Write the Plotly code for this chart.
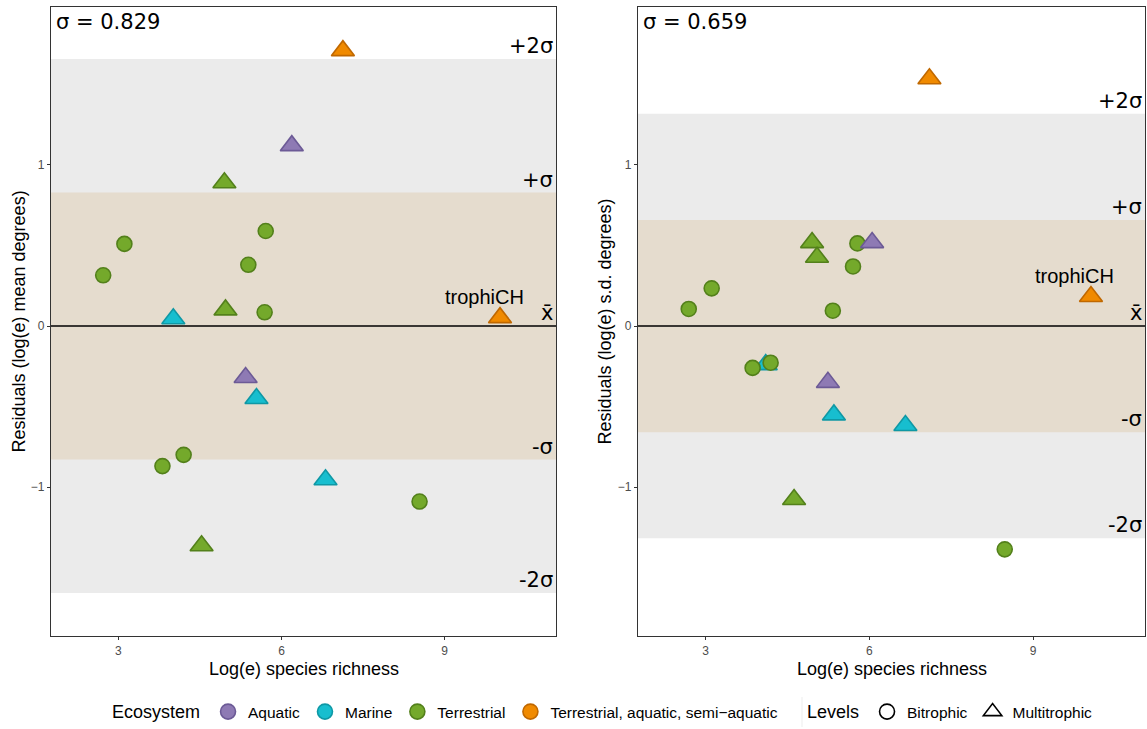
import plotly.graph_objects as go

# ---------------- data ----------------
sigma_left = 0.829
sigma_right = 0.659

left_x = [7.13, 6.19, 4.95, 3.11, 2.72, 5.71, 5.39, 4.97, 5.69, 4.01, 10.02, 5.34, 5.54, 4.20, 3.81, 6.81, 8.54, 4.53]
left_y = [1.71, 1.12, 0.89, 0.51, 0.315, 0.59, 0.38, 0.10, 0.085, 0.045, 0.052, -0.32, -0.45, -0.80, -0.87, -0.955, -1.09, -1.365]
left_eco = ["Terrestrial, aquatic, semi\u2212aquatic", "Aquatic", "Terrestrial", "Terrestrial", "Terrestrial",
            "Terrestrial", "Terrestrial", "Terrestrial", "Terrestrial", "Marine",
            "Terrestrial, aquatic, semi\u2212aquatic", "Aquatic", "Marine", "Terrestrial", "Terrestrial",
            "Marine", "Terrestrial", "Terrestrial"]
left_level = ["Multitrophic", "Multitrophic", "Multitrophic", "Bitrophic", "Bitrophic",
              "Bitrophic", "Bitrophic", "Multitrophic", "Bitrophic", "Multitrophic",
              "Multitrophic", "Multitrophic", "Multitrophic", "Bitrophic", "Bitrophic",
              "Multitrophic", "Bitrophic", "Multitrophic"]

right_x = [7.10, 10.06, 4.10, 5.35, 6.66, 4.95, 5.04, 4.62, 5.78, 5.70, 3.11, 2.69, 5.33, 3.86, 4.19, 8.48, 6.05, 5.24]
right_y = [1.535, 0.183, -0.24, -0.552, -0.618, 0.518, 0.427, -1.077, 0.513, 0.37, 0.234, 0.106, 0.095, -0.26, -0.228, -1.387, 0.518, -0.35]
right_eco = ["Terrestrial, aquatic, semi\u2212aquatic", "Terrestrial, aquatic, semi\u2212aquatic",
             "Marine", "Marine", "Marine",
             "Terrestrial", "Terrestrial", "Terrestrial", "Terrestrial", "Terrestrial", "Terrestrial",
             "Terrestrial", "Terrestrial", "Terrestrial", "Terrestrial", "Terrestrial",
             "Aquatic", "Aquatic"]
right_level = ["Multitrophic", "Multitrophic", "Multitrophic", "Multitrophic", "Multitrophic",
               "Multitrophic", "Multitrophic", "Multitrophic", "Bitrophic", "Bitrophic", "Bitrophic",
               "Bitrophic", "Bitrophic", "Bitrophic", "Bitrophic", "Bitrophic",
               "Multitrophic", "Multitrophic"]

# labelled network (trophiCH) index in each panel
left_label_idx = 10
right_label_idx = 1
label_text = "trophiCH"

ecosystems = ["Aquatic", "Marine", "Terrestrial", "Terrestrial, aquatic, semi\u2212aquatic"]
levels = ["Bitrophic", "Multitrophic"]

x_ticks = [3, 6, 9]
y_ticks = [-1, 0, 1]
y_ticktext = ["\u22121", "0", "1"]

band_labels = ["+2\u03c3", "+\u03c3", "x\u0304", "-\u03c3", "-2\u03c3"]
band_mult = [2, 1, 0, -1, -2]

# ---------------- styles ----------------
fill = {"Aquatic": "#8E7AB4", "Marine": "#17BECF", "Terrestrial": "#74A92B",
        "Terrestrial, aquatic, semi\u2212aquatic": "#F08A00"}
edge = {"Aquatic": "#6C5A96", "Marine": "#0F98A5", "Terrestrial": "#53801B",
        "Terrestrial, aquatic, semi\u2212aquatic": "#C06800"}
sym = {"Bitrophic": "circle", "Multitrophic": "triangle-up"}
msize = {"Bitrophic": 15, "Multitrophic": 20}

W, H = 1147, 729
L_dom = [51 / W, 556 / W]
R_dom = [638 / W, 1145 / W]
Y_dom = [1 - 636 / H, 1 - 7 / H]
XR = [1.76, 11.05]
YR = [-1.925, 1.981]
TXT = "Liberation Sans, Arial, sans-serif"
SIG = "DejaVu Sans, sans-serif"

fig = go.Figure()


def add_panel(xs, ys, ecos, lvls, xa, ya):
    fig.add_trace(go.Scatter(
        x=xs, y=ys, mode="markers", xaxis=xa, yaxis=ya, showlegend=False,
        hoverinfo="skip",
        marker=dict(symbol=[sym[l] for l in lvls], size=[msize[l] for l in lvls],
                    color=[fill[e] for e in ecos], opacity=1,
                    line=dict(color=[edge[e] for e in ecos], width=1.6))))


add_panel(left_x, left_y, left_eco, left_level, "x", "y")
add_panel(right_x, right_y, right_eco, right_level, "x2", "y2")

# legend traces
for e in ecosystems:
    fig.add_trace(go.Scatter(x=[None], y=[None], mode="markers", name=e, legend="legend",
                             marker=dict(symbol="circle", size=15, color=fill[e], opacity=1,
                                         line=dict(color=edge[e], width=1.6))))
for l in levels:
    fig.add_trace(go.Scatter(x=[None], y=[None], mode="markers", name=l, legend="legend2",
                             marker=dict(symbol=sym[l] + "-open", size=15 if l == "Bitrophic" else 19,
                                         color="black", opacity=1, line=dict(color="black", width=1.6))))

shapes = []
annotations = []
for xa, ya, s, xs, ys, li in [("x", "y", sigma_left, left_x, left_y, left_label_idx),
                               ("x2", "y2", sigma_right, right_x, right_y, right_label_idx)]:
    shapes.append(dict(type="rect", xref=xa + " domain", yref=ya, x0=0, x1=1, y0=-2 * s, y1=2 * s,
                       fillcolor="#EBEBEB", line=dict(width=0), layer="below"))
    shapes.append(dict(type="rect", xref=xa + " domain", yref=ya, x0=0, x1=1, y0=-s, y1=s,
                       fillcolor="#E5DCCE", line=dict(width=0), layer="below"))
    shapes.append(dict(type="line", xref=xa + " domain", yref=ya, x0=0, x1=1, y0=0, y1=0,
                       line=dict(color="black", width=1.5), layer="below"))
    annotations.append(dict(xref=xa + " domain", yref=ya + " domain", x=0.006, y=0.998,
                            xanchor="left", yanchor="top", showarrow=False,
                            text="\u03c3 = %.3f" % s, font=dict(family=SIG, size=21, color="black")))
    for lab, m in zip(band_labels, band_mult):
        annotations.append(dict(xref=xa + " domain", yref=ya, x=0.998, y=m * s,
                                xanchor="right", yanchor="bottom", showarrow=False, yshift=-1,
                                text=lab, font=dict(family=SIG, size=21, color="black")))
    annotations.append(dict(xref=xa, yref=ya, x=xs[li], y=ys[li], xshift=-16, yshift=21,
                            xanchor="center", yanchor="middle",
                            showarrow=False, text=label_text,
                            font=dict(family=TXT, size=20, color="black")))

# axis titles
for xa in ["x", "x2"]:
    annotations.append(dict(xref=xa + " domain", yref="paper", x=0.5, y=1 - 669 / H, showarrow=False,
                            xanchor="center", yanchor="middle",
                            text="Log(e) species richness", font=dict(family=TXT, size=18, color="black")))
annotations.append(dict(xref="paper", yref="y domain", x=18 / W, y=0.5, showarrow=False, textangle=-90,
                        xanchor="center", yanchor="middle",
                        text="Residuals (log(e) mean degrees)", font=dict(family=TXT, size=18, color="black")))
annotations.append(dict(xref="paper", yref="y2 domain", x=604 / W, y=0.5, showarrow=False, textangle=-90,
                        xanchor="center", yanchor="middle",
                        text="Residuals (log(e) s.d. degrees)", font=dict(family=TXT, size=18, color="black")))

# faint separator between the two legend boxes
shapes.append(dict(type="line", xref="paper", yref="paper", x0=802 / W, x1=802 / W,
                   y0=1 - 727 / H, y1=1 - 697 / H, line=dict(color="#EDEDED", width=1)))

axis_common = dict(showgrid=False, zeroline=False, showline=True, mirror=True, linecolor="#333333",
                   linewidth=1.2, ticks="outside", ticklen=3, tickcolor="#333333",
                   tickfont=dict(family=TXT, size=12, color="#4D4D4D"), automargin=False)

fig.update_layout(
    width=W, height=H, margin=dict(l=0, r=0, t=0, b=0),
    paper_bgcolor="white", plot_bgcolor="white",
    font=dict(family=TXT, color="black"),
    xaxis=dict(domain=L_dom, range=XR, tickvals=x_ticks, anchor="y", **axis_common),
    yaxis=dict(domain=Y_dom, range=YR, tickvals=y_ticks, ticktext=y_ticktext, anchor="x", **axis_common),
    xaxis2=dict(domain=R_dom, range=XR, tickvals=x_ticks, anchor="y2", **axis_common),
    yaxis2=dict(domain=Y_dom, range=YR, tickvals=y_ticks, ticktext=y_ticktext, anchor="x2", **axis_common),
    shapes=shapes, annotations=annotations,
    legend=dict(title=dict(text="Ecosystem", font=dict(size=18), side="left"), orientation="h",
                x=110 / W, xanchor="left", y=1 - 712 / H, yanchor="middle",
                font=dict(family=TXT, size=15.5), itemwidth=30, bgcolor="rgba(0,0,0,0)"),
    legend2=dict(title=dict(text="Levels", font=dict(size=18), side="left"), orientation="h",
                 x=805 / W, xanchor="left", y=1 - 712 / H, yanchor="middle",
                 font=dict(family=TXT, size=15.5), itemwidth=30, bgcolor="rgba(0,0,0,0)"),
)

fig.write_html("out.html", config={"displayModeBar": False},
               post_script="document.body.style.margin='0';document.body.style.overflow='hidden';")
